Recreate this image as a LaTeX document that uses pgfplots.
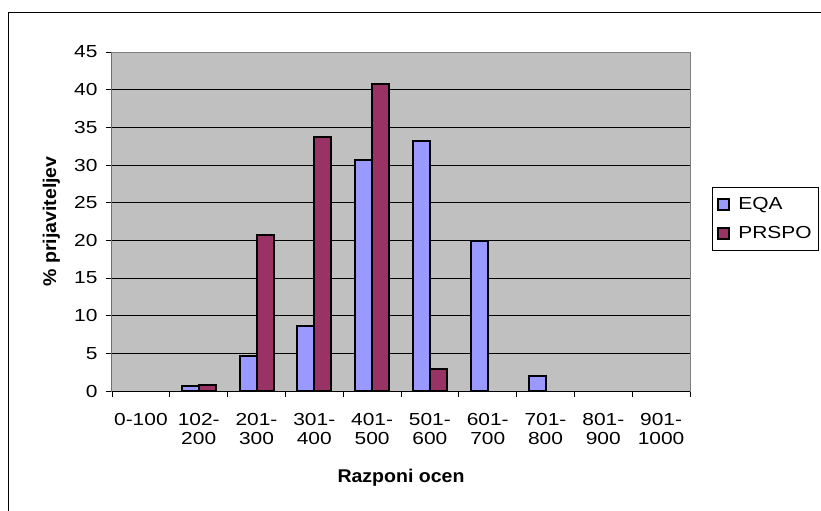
\documentclass[border=0pt]{standalone}
\usepackage{fontspec}
\setmainfont{Liberation Sans}[FakeStretch=1.2]
\newfontfamily\labfont{Liberation Sans}[FakeStretch=1.06]
\usepackage{pgfplots}
\pgfplotsset{compat=1.18}
\definecolor{eqa}{HTML}{9999FF}
\definecolor{prs}{HTML}{993366}
\definecolor{plotbg}{HTML}{C0C0C0}
\definecolor{bordergray}{HTML}{808080}
\begin{document}
\begin{tikzpicture}
\clip (-112bp,391bp) rectangle (709bp,-120bp);
\fill[white] (-112bp,391bp) rectangle (709bp,-120bp);
\draw[line width=1.2bp] (-103.5bp,378.5bp) rectangle (740bp,-140bp);
\begin{axis}[
  at={(0,0)}, anchor=south west,
  scale only axis, width=578bp, height=339bp,
  xmin=-0.5, xmax=9.5, ymin=0, ymax=45,
  ybar=0pt, bar width=17bp,
  axis background/.style={fill=plotbg},
  axis line style={bordergray, line width=1bp},
  xtick={-0.5,0.5,...,9.5}, x tick label as interval,
  xticklabels={0-100,{102-\\200},{201-\\300},{301-\\400},{401-\\500},{501-\\600},{601-\\700},{701-\\800},{801-\\900},{901-\\1000}},
  xticklabel style={align=center, font=\fontsize{17.5}{19}\selectfont, yshift=-13bp},
  ytick={0,5,...,45},
  yticklabel style={font=\fontsize{17.5}{19.5}\selectfont, xshift=-5bp},
  /pgf/number format/assume math mode=true,
  ymajorgrids, grid style={black, line width=0.8bp},
  tick pos=left, tick align=outside, major tick length=6bp,
  tick style={black, line width=0.8bp},
  xlabel={Razponi ocen}, ylabel={\% prijaviteljev},
  every axis x label/.style={at={(axis description cs:0.5,-0.2566)}, anchor=center, font=\labfont\bfseries\fontsize{18.5}{21}\selectfont},
  every axis y label/.style={at={(axis description cs:-0.1050,0.5)}, anchor=center, rotate=90, font=\labfont\bfseries\fontsize{18.5}{21}\selectfont},
  legend style={at={(axis description cs:1.038,0.601)}, anchor=north west, draw=black, line width=0.8bp, fill=white,
    font=\fontsize{17.5}{20}\selectfont, inner xsep=5bp, inner ysep=8bp, row sep=11bp,
    /tikz/every odd column/.append style={column sep=6bp}},
  legend cell align=left,
  legend image code/.code={\draw[#1,line width=2bp] (0bp,-5.5bp) rectangle (11bp,5.5bp);},
]
\addplot[fill=eqa, draw=black, line width=2bp] coordinates {(1,0.7) (2,4.6) (3,8.6) (4,30.7) (5,33.2) (6,19.9) (7,2.0)};
\addplot[fill=prs, draw=black, line width=2bp] coordinates {(1,0.8) (2,20.7) (3,33.7) (4,40.8) (5,2.9)};
\legend{EQA,PRSPO}
\draw[black, line width=1bp] (rel axis cs:0,1) -- (rel axis cs:0,0) -- (rel axis cs:1,0);
\end{axis}
\end{tikzpicture}
\end{document}
